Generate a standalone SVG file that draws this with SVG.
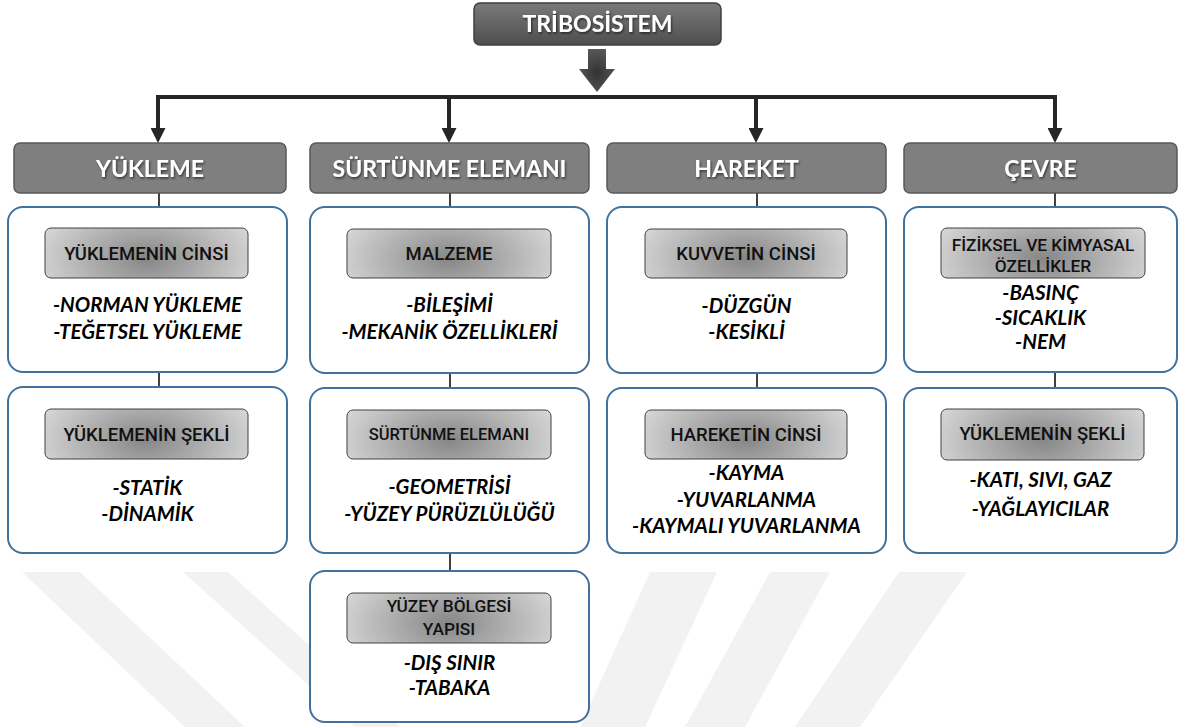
<svg xmlns="http://www.w3.org/2000/svg" width="1184" height="727" viewBox="0 0 1184 727">
<defs>
<linearGradient id="gTitle" x1="0" y1="0" x2="0" y2="1">
<stop offset="0" stop-color="#7a7a7a"/>
<stop offset="1" stop-color="#4e4e4e"/>
</linearGradient>
<radialGradient id="gInner" cx="0.5" cy="0.55" r="0.6" gradientTransform="translate(0.5 0.5) scale(1 2.2) translate(-0.5 -0.5)">
<stop offset="0" stop-color="#868686"/>
<stop offset="1" stop-color="#dcdcdc"/>
</radialGradient>
<radialGradient id="gArrow" cx="0.5" cy="0.55" r="0.6">
<stop offset="0" stop-color="#333333"/>
<stop offset="1" stop-color="#5a5a5a"/>
</radialGradient>
<filter id="shadow" x="-10%" y="-30%" width="120%" height="160%">
<feDropShadow dx="1" dy="1.5" stdDeviation="1" flood-color="#000" flood-opacity="0.6"/>
</filter>
<marker id="ah" viewBox="0 0 15 15" refX="0" refY="7.5" markerWidth="15" markerHeight="15" markerUnits="userSpaceOnUse" orient="auto">
<path d="M0,0 L15,7.5 L0,15 z" fill="#262626"/>
</marker>
</defs>
<style>
.hdr{fill:#7f7f7f;stroke:#5a5a5a;stroke-width:1.5}
.box{fill:#fff;stroke:#41719c;stroke-width:2}
.inner{fill:url(#gInner);stroke:#404040;stroke-width:1}
.ht{font-family:Lato,"Liberation Sans",sans-serif;font-weight:700;font-size:23px;fill:#fff;text-anchor:middle;filter:url(#shadow)}
.lb{font-family:Roboto,"Liberation Sans",sans-serif;font-weight:500;font-size:18.5px;fill:#111;text-anchor:middle}
.lbs{font-family:Roboto,"Liberation Sans",sans-serif;font-weight:500;font-size:17.3px;fill:#111;text-anchor:middle}
.lbx{font-family:Roboto,"Liberation Sans",sans-serif;font-weight:500;font-size:16.5px;fill:#111;text-anchor:middle}
.it{font-family:Lato,"Liberation Sans",sans-serif;font-weight:700;font-style:italic;font-size:20.5px;fill:#000;text-anchor:middle}
.main{stroke:#262626;stroke-width:4;fill:none}
.thin{stroke:#404040;stroke-width:2;fill:none}
.wm{fill:#f2f2f2}
</style>
<g id="watermark">
<polygon class="wm" points="22,572 80,572 245,727 185,727"/>
<polygon class="wm" points="183,572 228,572 400,727 355,727"/>
<polygon class="wm" points="650,572 717,572 645,727 580,727"/>
<polygon class="wm" points="770,572 830,572 745,727 685,727"/>
<polygon class="wm" points="899,572 967,572 860,727 795,727"/>
</g>
<g id="connectors">
<path class="main" d="M156,97 H1057"/>
<path class="main" d="M158,97 V128" marker-end="url(#ah)"/>
<path class="main" d="M449,97 V128" marker-end="url(#ah)"/>
<path class="main" d="M756,97 V128" marker-end="url(#ah)"/>
<path class="main" d="M1055,97 V128" marker-end="url(#ah)"/>
<path class="thin" d="M159,193 V207 M159,372 V387"/>
<path class="thin" d="M450,193 V207 M450,373 V388 M450,553 V571"/>
<path class="thin" d="M757,193 V207 M757,373 V388"/>
<path class="thin" d="M1055,193 V207 M1055,372 V388"/>
</g>
<g id="title">
<rect x="474" y="3" width="247" height="42" rx="6" fill="url(#gTitle)" stroke="#3f3f3f" stroke-width="1.5"/>
<text class="ht" x="597.5" y="32">TRİBOSİSTEM</text>
<polygon points="588,49 606,49 606,69 615,69 597,92 579,69 588,69" fill="url(#gArrow)"/>
</g>
<g id="yukleme">
<rect class="hdr" x="14" y="143" width="272" height="50" rx="6"/>
<text class="ht" x="150" y="177">YÜKLEME</text>
</g>
<g id="surtunme">
<rect class="hdr" x="310" y="143" width="279" height="50" rx="6"/>
<text class="ht" x="449.5" y="177">SÜRTÜNME ELEMANI</text>
</g>
<g id="hareket">
<rect class="hdr" x="607" y="143" width="279" height="50" rx="6"/>
<text class="ht" x="746.5" y="177">HAREKET</text>
</g>
<g id="cevre">
<rect class="hdr" x="904" y="143" width="273" height="50" rx="6"/>
<text class="ht" x="1040.5" y="177">ÇEVRE</text>
</g>
<g id="yuk-cins">
<rect class="box" x="8" y="207" width="279" height="165" rx="15"/>
<rect class="inner" x="45" y="228" width="203" height="50" rx="6"/>
<text class="lb" x="146.5" y="260">YÜKLEMENİN CİNSİ</text>
<text class="it" x="147.5" y="312">-NORMAN YÜKLEME</text>
<text class="it" x="147.5" y="339">-TEĞETSEL YÜKLEME</text>
</g>
<g id="yuk-sekil">
<rect class="box" x="8" y="387" width="279" height="166" rx="15"/>
<rect class="inner" x="45" y="409" width="203" height="50" rx="6"/>
<text class="lb" x="146.5" y="441">YÜKLEMENİN ŞEKLİ</text>
<text class="it" x="147.5" y="495">-STATİK</text>
<text class="it" x="147.5" y="521">-DİNAMİK</text>
</g>
<g id="malzeme">
<rect class="box" x="310" y="207" width="279" height="166" rx="15"/>
<rect class="inner" x="347" y="229" width="204" height="49" rx="6"/>
<text class="lb" x="449" y="260">MALZEME</text>
<text class="it" x="449.5" y="312">-BİLEŞİMİ</text>
<text class="it" x="449.5" y="339">-MEKANİK ÖZELLİKLERİ</text>
</g>
<g id="surtunme-el">
<rect class="box" x="310" y="388" width="279" height="165" rx="15"/>
<rect class="inner" x="347" y="410" width="204" height="49" rx="6"/>
<text class="lbx" x="449" y="440">SÜRTÜNME ELEMANI</text>
<text class="it" x="449.5" y="494">-GEOMETRİSİ</text>
<text class="it" x="449.5" y="521">-YÜZEY PÜRÜZLÜLÜĞÜ</text>
</g>
<g id="yuzey">
<rect class="box" x="310" y="571" width="279" height="151" rx="15"/>
<rect class="inner" x="347" y="593" width="204" height="50" rx="6"/>
<text class="lbs" x="449" y="612">YÜZEY BÖLGESİ</text>
<text class="lbs" x="449" y="635">YAPISI</text>
<text class="it" x="449.5" y="670">-DIŞ SINIR</text>
<text class="it" x="449.5" y="695">-TABAKA</text>
</g>
<g id="kuvvet">
<rect class="box" x="607" y="207" width="279" height="166" rx="15"/>
<rect class="inner" x="645" y="229" width="202" height="49" rx="6"/>
<text class="lb" x="746" y="260">KUVVETİN CİNSİ</text>
<text class="it" x="746.5" y="313">-DÜZGÜN</text>
<text class="it" x="746.5" y="339">-KESİKLİ</text>
</g>
<g id="hareket-cins">
<rect class="box" x="607" y="388" width="279" height="165" rx="15"/>
<rect class="inner" x="645" y="410" width="202" height="49" rx="6"/>
<text class="lb" x="746" y="441">HAREKETİN CİNSİ</text>
<text class="it" x="746.5" y="480">-KAYMA</text>
<text class="it" x="746.5" y="507">-YUVARLANMA</text>
<text class="it" x="746.5" y="533">-KAYMALI YUVARLANMA</text>
</g>
<g id="fiziksel">
<rect class="box" x="904" y="207" width="273" height="165" rx="15"/>
<rect class="inner" x="941" y="228" width="204" height="50" rx="6"/>
<text class="lbs" x="1043" y="251">FİZİKSEL VE KİMYASAL</text>
<text class="lbs" x="1043" y="272">ÖZELLİKLER</text>
<text class="it" x="1040.5" y="300">-BASINÇ</text>
<text class="it" x="1040.5" y="325">-SICAKLIK</text>
<text class="it" x="1040.5" y="349">-NEM</text>
</g>
<g id="cevre-sekil">
<rect class="box" x="904" y="388" width="273" height="165" rx="15"/>
<rect class="inner" x="941" y="409" width="203" height="51" rx="6"/>
<text class="lb" x="1042.5" y="440">YÜKLEMENİN ŞEKLİ</text>
<text class="it" x="1040.5" y="487">-KATI, SIVI, GAZ</text>
<text class="it" x="1040.5" y="516">-YAĞLAYICILAR</text>
</g>
</svg>
